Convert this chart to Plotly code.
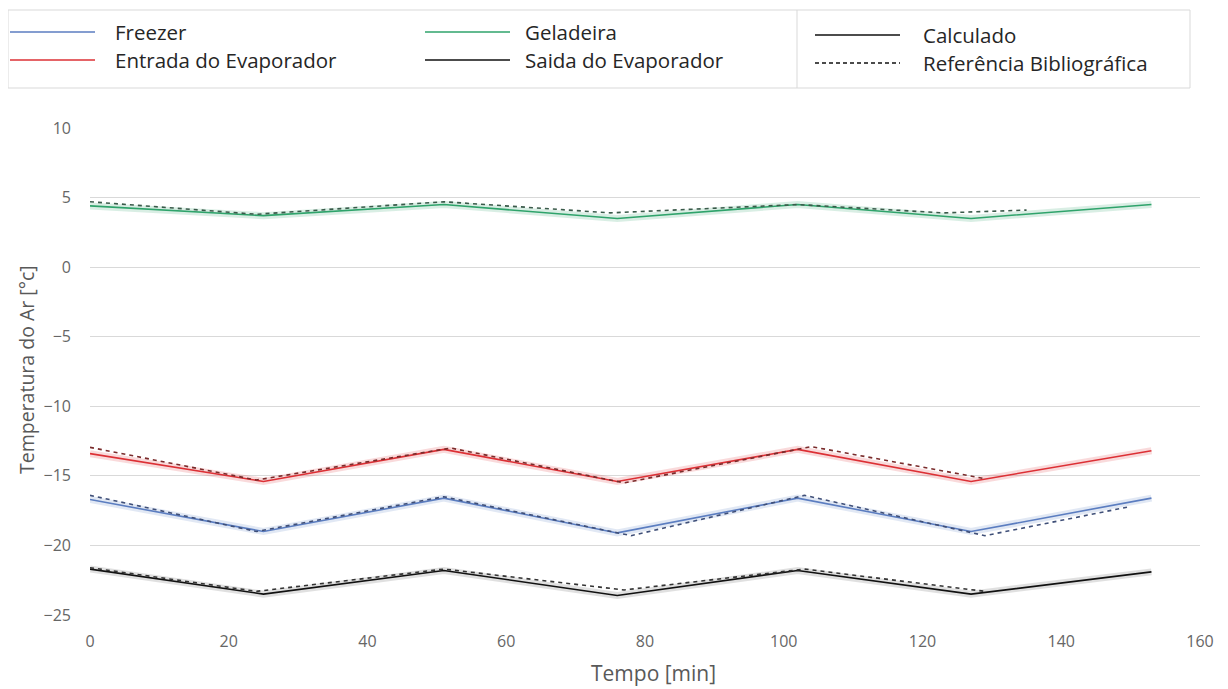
import plotly.graph_objects as go

# ---- data ----
t_calc = [0, 25, 51, 76, 102, 127, 153]
freezer_calc = [-16.7, -19.0, -16.6, -19.1, -16.6, -19.0, -16.6]
geladeira_calc = [4.4, 3.7, 4.5, 3.5, 4.5, 3.5, 4.5]
entrada_calc = [-13.4, -15.4, -13.1, -15.4, -13.1, -15.4, -13.2]
saida_calc = [-21.7, -23.5, -21.8, -23.6, -21.8, -23.5, -21.9]

t_freezer_ref = [0, 24, 51, 78, 103, 129, 150]
freezer_ref = [-16.4, -19.0, -16.5, -19.3, -16.4, -19.3, -17.2]
t_geladeira_ref = [0, 24, 51, 75, 102, 123, 135]
geladeira_ref = [4.7, 3.8, 4.7, 3.9, 4.5, 3.9, 4.1]
t_entrada_ref = [0, 24, 52, 77, 104, 129]
entrada_ref = [-12.95, -15.3, -13.0, -15.5, -12.9, -15.2]
t_saida_ref = [0, 24, 51, 77, 103, 129]
saida_ref = [-21.6, -23.3, -21.7, -23.2, -21.7, -23.3]

x_ticks = [0, 20, 40, 60, 80, 100, 120, 140, 160]
y_ticks = [10, 5, 0, -5, -10, -15, -20, -25]

C_BLUE = "#5b7dc0"
C_GREEN = "#2fa36b"
C_RED = "#dc3035"
C_BLACK = "#111111"

series = [
    ("Freezer", t_calc, freezer_calc, t_freezer_ref, freezer_ref, C_BLUE, "#3f4f78", "rgba(91,125,192,0.18)"),
    ("Geladeira", t_calc, geladeira_calc, t_geladeira_ref, geladeira_ref, C_GREEN, "#3a5a4a", "rgba(47,163,107,0.18)"),
    ("Entrada do Evaporador", t_calc, entrada_calc, t_entrada_ref, entrada_ref, C_RED, "#7a2b2b", "rgba(220,48,53,0.18)"),
    ("Saida do Evaporador", t_calc, saida_calc, t_saida_ref, saida_ref, C_BLACK, "#333333", "rgba(0,0,0,0.12)"),
]

fig = go.Figure()
for name, tc, yc, tr, yr, col, dcol, glow in series:
    fig.add_trace(go.Scatter(x=tc, y=yc, mode="lines", line=dict(color=glow, width=7),
                             showlegend=False, hoverinfo="skip"))
    fig.add_trace(go.Scatter(x=tc, y=yc, mode="lines", name=name + " (Calculado)",
                             line=dict(color=col, width=1.6), showlegend=False))
    fig.add_trace(go.Scatter(x=tr, y=yr, mode="lines", name=name + " (Referência)",
                             line=dict(color=dcol, width=1.6, dash="4px,4px"), showlegend=False))

# page body has an 8px default margin: work in screen pixels, shift by OFF
OFF = 8
W, H = 1228 - OFF, 689 - OFF
SL, SR, ST, SB = 90, 1200, 128, 615  # plot area in screen pixels
L, R, T, B = SL - OFF, SR - OFF, ST - OFF, SB - OFF


def px(xs):
    return (xs - SL) / (SR - SL)


def py(ys):
    return (SB - ys) / (SB - ST)


shapes = []
annotations = []
font_main = "Open Sans, Lato, sans-serif"

# legend frame
shapes.append(dict(type="rect", xref="paper", yref="paper", x0=px(8), x1=px(1190), y0=py(88), y1=py(10),
                   line=dict(color="#d9d9d9", width=1), fillcolor="rgba(0,0,0,0)"))
shapes.append(dict(type="line", xref="paper", yref="paper", x0=px(797), x1=px(797), y0=py(88), y1=py(10),
                   line=dict(color="#d9d9d9", width=1)))

legend_items = [
    ("Freezer", C_BLUE, "solid", 10, 32, 113),
    ("Entrada do Evaporador", C_RED, "solid", 10, 60, 113),
    ("Geladeira", C_GREEN, "solid", 425, 32, 523),
    ("Saida do Evaporador", C_BLACK, "solid", 425, 60, 523),
    ("Calculado", C_BLACK, "solid", 815, 35, 921),
    ("Referência Bibliográfica", C_BLACK, "dash", 815, 63, 921),
]
for label, col, dash, x0, yy, xt in legend_items:
    shapes.append(dict(type="line", xref="paper", yref="paper", x0=px(x0), x1=px(x0 + 85),
                       y0=py(yy), y1=py(yy), line=dict(color=col, width=1.5, dash="4px,3px" if dash == "dash" else "solid")))
    annotations.append(dict(xref="paper", yref="paper", x=px(xt), y=py(yy), text=label,
                            showarrow=False, xanchor="left", yanchor="middle",
                            font=dict(family=font_main, size=20.5, color="#262626")))

# axis titles
annotations.append(dict(xref="paper", yref="paper", x=px(653), y=py(673), text="Tempo [min]",
                        showarrow=False, xanchor="center", yanchor="middle",
                        font=dict(family=font_main, size=21, color="#595959")))
annotations.append(dict(xref="paper", yref="paper", x=px(26), y=py(370), text="Temperatura do Ar [°c]",
                        showarrow=False, xanchor="center", yanchor="middle", textangle=-90,
                        font=dict(family=font_main, size=19.5, color="#595959")))

fig.update_layout(
    width=W, height=H,
    margin=dict(l=L, r=W - R, t=T, b=H - B, autoexpand=False),
    paper_bgcolor="white", plot_bgcolor="white",
    showlegend=False,
    shapes=shapes, annotations=annotations,
    font=dict(family=font_main, color="#595959"),
    xaxis=dict(range=[0, 160], tickvals=x_ticks, showgrid=False, zeroline=False, showline=False,
               tickfont=dict(size=16, color="#666666"), ticks="", automargin=False,
               ticklabelstandoff=15),
    yaxis=dict(range=[-25, 10], tickvals=y_ticks, showgrid=True, gridcolor="#d9d9d9", gridwidth=1,
               zeroline=False, showline=False, ticks="", ticklabelstandoff=18, automargin=False,
               tickfont=dict(size=16, color="#666666")),
)

fig.write_html("out.html")
